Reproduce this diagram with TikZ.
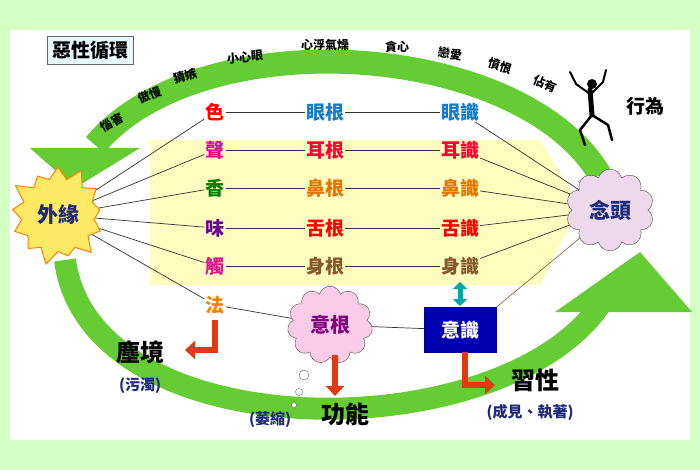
\documentclass[tikz,border=0pt]{standalone}
\usepackage{fontspec}
\setmainfont{Noto Sans CJK TC}
\usetikzlibrary{shapes.symbols,shapes.geometric,arrows.meta}
\definecolor{gr}{HTML}{66CC33}
\definecolor{navy}{HTML}{1F2A7A}
\definecolor{redarr}{HTML}{E03A10}
\tikzset{
 ch/.style={font=\fontsize{19}{19}\selectfont\bfseries,inner sep=1pt},
 arcw/.style={font=\fontsize{12}{12}\selectfont\bfseries,text=black,inner sep=0pt},
 ln/.style={draw=black!80,line width=0.7pt},
 redar/.style={draw=redarr,line width=6pt,-{Triangle[length=10pt,width=18pt]}},
 lab/.style={font=\fontsize{24}{24}\selectfont\bfseries},
 sub/.style={font=\fontsize{15}{15}\selectfont\bfseries,text=navy}
}
\begin{document}
\begin{tikzpicture}[x=1pt,y=-1pt]
\useasboundingbox (0,0) rectangle (700,470);
\fill[green!15!white!90!lime] (0,0) rectangle (700,470);
\fill[white] (10,30) rectangle (690,440);
% yellow band
\fill[yellow!25] (150,140) -- (540,140) -- (580,205) -- (540,285) -- (150,285) -- cycle;
% green arcs
\draw[gr,line width=24pt] (600,175) .. controls (520,40) and (200,20) .. (95,145);
\fill[gr] (30,148) -- (140,148) -- (75,188) -- cycle;
\draw[gr,line width=22pt] (65,260) .. controls (90,450) and (500,450) .. (600,305);
\fill[gr] (555,312) -- (692,312) -- (640,252) -- cycle;
% title
\node[draw=black!60,fill=cyan!10,font=\fontsize{19}{19}\selectfont\bfseries,inner sep=5pt] (title) at (90,50) {惡性循環};
% arc words
\node[arcw,rotate=30] (w1) at (112,122) {惱害};
\node[arcw,rotate=22] (w2) at (150,95) {傲慢};
\node[arcw,rotate=15] (w3) at (185,76) {猜嫉};
\node[arcw,rotate=5] (w4) at (245,57) {小心眼};
\node[arcw] (w5) at (325,45) {心浮氣燥};
\node[arcw] (w6) at (397,47) {貪心};
\node[arcw,rotate=-8] (w7) at (450,54) {戀愛};
\node[arcw,rotate=-18] (w8) at (500,66) {憤恨};
\node[arcw,rotate=-22] (w9) at (545,84) {佔有};
% rows
\node[ch,text=red] (s1) at (215,112) {色};
\node[ch,text=magenta] (s2) at (215,150) {聲};
\node[ch,text=green!50!black] (s3) at (215,188) {香};
\node[ch,text=violet!80!blue] (s4) at (215,228) {味};
\node[ch,text=magenta!90!black] (s5) at (215,266) {觸};
\node[ch,text=orange] (s6) at (215,305) {法};
\node[ch,text=cyan!60!blue] (g1) at (325,112) {眼根};
\node[ch,text=red!80!magenta] (g2) at (325,150) {耳根};
\node[ch,text=orange!90!black] (g3) at (325,188) {鼻根};
\node[ch,text=red] (g4) at (325,228) {舌根};
\node[ch,text=brown!70!black] (g5) at (325,266) {身根};
\node[ch,text=cyan!60!blue] (k1) at (460,112) {眼識};
\node[ch,text=red!80!magenta] (k2) at (460,150) {耳識};
\node[ch,text=orange!90!black] (k3) at (460,188) {鼻識};
\node[ch,text=red] (k4) at (460,228) {舌識};
\node[ch,text=brown!70!black] (k5) at (460,266) {身識};
\foreach \i in {1,...,5}{\draw[ln] (s\i) -- (g\i); \draw[ln] (g\i) -- (k\i);}
% waiyuan
\node[starburst,starburst points=13,starburst point height=16pt,fill=yellow!80!orange!60,draw=orange,line width=1pt,minimum width=105pt,minimum height=105pt,font=\fontsize{21}{21}\selectfont\bfseries,text=navy] (wy) at (58,215) {外緣};
\foreach \i in {1,...,6}{\draw[ln] (wy) -- (s\i);}
% niantou
\node[cloud,cloud puffs=10,fill=violet!15,draw=black!70,minimum width=88pt,minimum height=68pt,font=\fontsize{21}{21}\selectfont\bfseries,text=navy] (nt) at (610,210) {念頭};
\foreach \i in {1,...,5}{\draw[ln] (k\i) -- (nt);}
% yigen
\node[cloud,cloud puffs=11,fill=magenta!20,draw=black!70,minimum width=85pt,minimum height=62pt,font=\fontsize{20}{20}\selectfont\bfseries,text=violet] (yg) at (330,325) {意根};
\draw[black!60,fill=white] (304,375) circle (5);
\draw[black!60,fill=white] (299,392) circle (3.5);
\draw[black!60,fill=white] (294,405) circle (2.5);
% yishi
\node[draw=blue!60!black,fill=blue!70!black,minimum width=72pt,minimum height=45pt,font=\fontsize{19}{19}\selectfont\bfseries,text=white] (ys) at (460,330) {意識};
\draw[ln] (s6) -- (yg);
\draw[ln] (yg) -- (ys);
\draw[brown!70!black,line width=0.6pt] (ys.north east) -- (nt.south west);
\draw[teal!70!cyan,line width=5pt,{Triangle[length=7pt,width=14pt]}-{Triangle[length=7pt,width=14pt]}] (460,282) -- (460,306);
% red arrows
\draw[redar] (215,320) -- (215,350) -- (185,350);
\draw[redar] (335,355) -- (335,396);
\draw[redar] (465,352) -- (465,385) -- (495,385);
% labels
\node[lab] (cj) at (140,352) {塵境};
\node[sub] (cj2) at (140,386) {(污濁)};
\node[lab] (gn) at (345,414) {功能};
\node[sub] (gn2) at (270,420) {(萎縮)};
\node[lab] (xx) at (535,380) {習性};
\node[sub] (xx2) at (530,412) {(成見、執著)};
% runner
\node[font=\fontsize{19}{19}\selectfont\bfseries] (xw) at (645,106) {行為};
\draw[black,line width=5pt,line cap=round] (590,90) -- (592,115);
\fill (592,84) circle (5);
\draw[black,line width=2pt,line cap=round] (590,94) -- (576,84) -- (570,72);
\draw[black,line width=2pt,line cap=round] (591,94) -- (603,82) -- (606,70);
\draw[black,line width=2.5pt,line cap=round] (592,115) -- (580,130) -- (585,145);
\draw[black,line width=2.5pt,line cap=round] (592,115) -- (608,125) -- (612,140);
\end{tikzpicture}
\end{document}
